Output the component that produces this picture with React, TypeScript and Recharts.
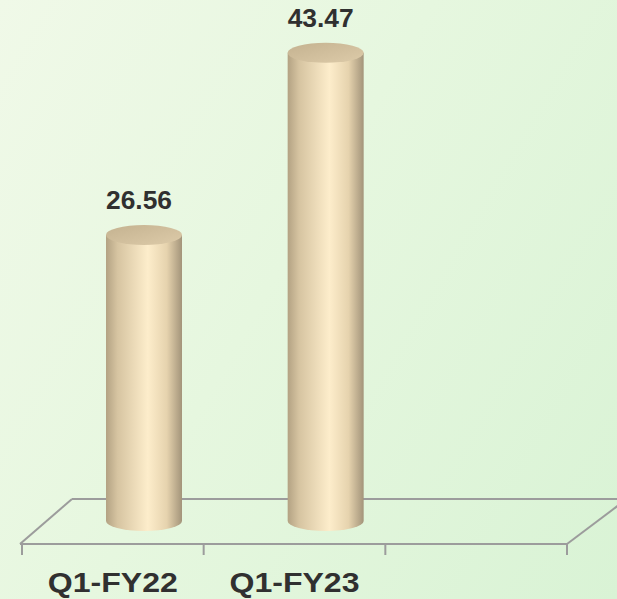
import React from "react";
import { BarChart, Bar, XAxis, YAxis, LabelList, Customized } from "recharts";

const categories = ["Q1-FY22", "Q1-FY23", ""];
const revenue = [26.56, 43.47, null];
const valueLabels = ["26.56", "43.47", ""];

const data = categories.map((name, i) => ({ name, value: revenue[i], label: valueLabels[i] }));

const W = 617;
const H = 599;
const AXIS_H = 55;
const MARGIN = { top: 5.5, right: 50, left: 22, bottom: 0 };
const PLOT_BOTTOM = H - AXIS_H;
const PLOT_LEFT = MARGIN.left;
const PLOT_RIGHT = W - MARGIN.right;
const SLOT = (PLOT_RIGHT - PLOT_LEFT) / categories.length;

// 3d depth of the floor and where the cylinders sit on it
const DEPTH_X = 52;
const DEPTH_Y = 45;
const BAR_DX = 31;
const BAR_DY = 23;
const RY = 10;

const GRID = "#9c9c9c";
const TEXT = "#303030";
const FONT = "'Liberation Sans', Arial, sans-serif";

function Floor() {
  return (
    <g>
      <line x1={PLOT_LEFT - 2} y1={PLOT_BOTTOM} x2={PLOT_LEFT - 2 + DEPTH_X} y2={PLOT_BOTTOM - DEPTH_Y} stroke={GRID} strokeWidth={2} />
      <line x1={PLOT_LEFT - 2 + DEPTH_X} y1={PLOT_BOTTOM - DEPTH_Y} x2={W + 10} y2={PLOT_BOTTOM - DEPTH_Y} stroke={GRID} strokeWidth={2} />
      <line x1={PLOT_RIGHT} y1={PLOT_BOTTOM} x2={PLOT_RIGHT + DEPTH_X * 1.15} y2={PLOT_BOTTOM - DEPTH_Y} stroke={GRID} strokeWidth={2} />
      <line x1={PLOT_LEFT - 2} y1={PLOT_BOTTOM} x2={PLOT_RIGHT} y2={PLOT_BOTTOM} stroke={GRID} strokeWidth={2} />
    </g>
  );
}

function Cylinder(props: any) {
  const { x, y, width, height } = props;
  if (!height || height <= 0) return null;
  const cx = x + width / 2 + BAR_DX;
  const rx = width / 2;
  const top = y - BAR_DY;
  const bottom = y + height - BAR_DY;
  return (
    <g>
      <path
        d={`M${cx - rx},${top} L${cx - rx},${bottom} A${rx},${RY} 0 0 0 ${cx + rx},${bottom} L${cx + rx},${top} Z`}
        fill="url(#cylBody)"
      />
      <ellipse cx={cx} cy={top} rx={rx} ry={RY} fill="url(#cylTop)" />
    </g>
  );
}

function ValueLabel(props: any) {
  const { x, y, width, value } = props;
  if (value == null || value === "") return null;
  return (
    <text
      x={x + width / 2 + BAR_DX - 5}
      y={y - BAR_DY - 26}
      textAnchor="middle"
      fontFamily={FONT}
      fontWeight="bold"
      fontSize={25}
      textLength={66}
      lengthAdjust="spacingAndGlyphs"
      fill={TEXT}
    >
      {value}
    </text>
  );
}

function CategoryTick(props: any) {
  const { x, payload, index } = props;
  const left = x - SLOT / 2;
  const last = index === categories.length - 1;
  return (
    <g>
      <line x1={left} y1={PLOT_BOTTOM} x2={left} y2={PLOT_BOTTOM + 11} stroke={GRID} strokeWidth={2} />
      {last && (
        <line x1={x + SLOT / 2} y1={PLOT_BOTTOM} x2={x + SLOT / 2} y2={PLOT_BOTTOM + 11} stroke={GRID} strokeWidth={2} />
      )}
      {payload.value && (
        <text
          x={x}
          y={PLOT_BOTTOM + 48}
          textAnchor="middle"
          fontFamily={FONT}
          fontWeight="bold"
          fontSize={28}
          textLength={130}
          lengthAdjust="spacingAndGlyphs"
          fill={TEXT}
        >
          {payload.value}
        </text>
      )}
    </g>
  );
}

export default function App() {
  return (
    <div
      style={{
        position: "absolute",
        left: 0,
        top: 0,
        width: W,
        height: H,
        background: "linear-gradient(120deg, #f0f9e8 0%, #e6f7df 45%, #d9f3d5 100%)",
      }}
    >
      <BarChart width={W} height={H} data={data} margin={MARGIN}>
        <defs>
          <linearGradient id="cylBody" x1="0" y1="0" x2="1" y2="0">
            <stop offset="0%" stopColor="#b3a283" />
            <stop offset="15%" stopColor="#d6c4a1" />
            <stop offset="55%" stopColor="#fdedcb" />
            <stop offset="80%" stopColor="#e6d3ae" />
            <stop offset="100%" stopColor="#a3947a" />
          </linearGradient>
          <linearGradient id="cylTop" x1="0" y1="0" x2="1" y2="1">
            <stop offset="0%" stopColor="#c4b290" />
            <stop offset="100%" stopColor="#ddcba9" />
          </linearGradient>
        </defs>
        <Customized component={<Floor />} />
        <YAxis hide domain={[0, 50]} />
        <XAxis
          dataKey="name"
          height={AXIS_H}
          axisLine={false}
          tickLine={false}
          interval={0}
          tick={<CategoryTick />}
        />
        <Bar dataKey="value" barSize={76} shape={<Cylinder />} isAnimationActive={false}>
          <LabelList dataKey="label" content={<ValueLabel />} />
        </Bar>
      </BarChart>
    </div>
  );
}
